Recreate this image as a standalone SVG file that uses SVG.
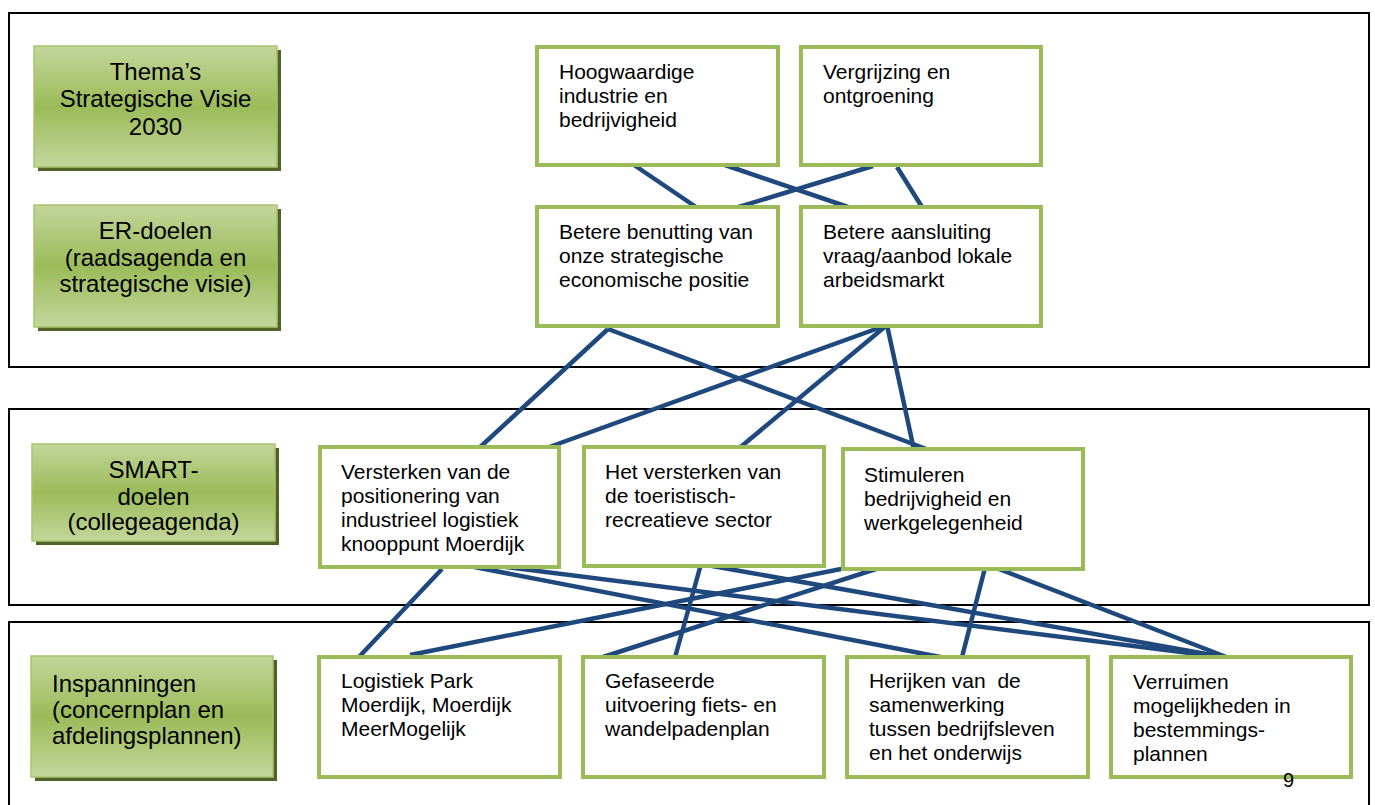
<svg xmlns="http://www.w3.org/2000/svg" width="1375" height="805" viewBox="0 0 1375 805">
<defs>
<linearGradient id="gg" x1="0" y1="0" x2="0" y2="1">
<stop offset="0" stop-color="#C3D69B"/>
<stop offset="0.5" stop-color="#9BBB59"/>
<stop offset="1" stop-color="#C3D69B"/>
</linearGradient>
</defs>
<style>
.frame{fill:none;stroke:#000;stroke-width:2}
.lbl{fill:url(#gg);stroke:#A9C56E;stroke-width:1.5}
.sh{fill:#4F6228}
.box{fill:#fff;stroke:#9BBB59;stroke-width:4}
text{font-family:"Liberation Sans",Arial,sans-serif;fill:#000}
.lt{font-size:24px}
.bt{font-size:21px;white-space:pre}
.c{text-anchor:middle}
.con line{stroke:#1F497D;stroke-width:4.5;stroke-linecap:butt}
</style>
<rect width="1375" height="805" fill="#fff"/>
<g id="frames">
<rect class="frame" x="9" y="13" width="1360" height="354"/>
<rect class="frame" x="9" y="409" width="1360" height="196"/>
<rect class="frame" x="9" y="622" width="1360" height="200"/>
</g>
<g id="label-thema">
<rect class="sh" x="38" y="50" width="243" height="121"/>
<rect class="lbl" x="34" y="46" width="243" height="121"/>
<text class="lt c" x="155.5" y="80">Thema’s</text>
<text class="lt c" x="155.5" y="107">Strategische Visie</text>
<text class="lt c" x="155.5" y="135">2030</text>
</g>
<g id="label-er">
<rect class="sh" x="38" y="209" width="243" height="122"/>
<rect class="lbl" x="34" y="205" width="243" height="122"/>
<text class="lt c" x="155.5" y="239">ER-doelen</text>
<text class="lt c" x="155.5" y="266">(raadsagenda en</text>
<text class="lt c" x="155.5" y="292">strategische visie)</text>
</g>
<g id="label-smart">
<rect class="sh" x="36" y="448" width="243" height="97"/>
<rect class="lbl" x="32" y="444" width="243" height="97"/>
<text class="lt c" x="153.5" y="478">SMART-</text>
<text class="lt c" x="153.5" y="504.5">doelen</text>
<text class="lt c" x="153.5" y="530">(collegeagenda)</text>
</g>
<g id="label-inspanningen">
<rect class="sh" x="35" y="660" width="242" height="121"/>
<rect class="lbl" x="31" y="656" width="242" height="121"/>
<text class="lt" x="52" y="692">Inspanningen</text>
<text class="lt" x="52" y="718">(concernplan en</text>
<text class="lt" x="52" y="744">afdelingsplannen)</text>
</g>
<g id="connectors" class="con">
<line x1="634" y1="165" x2="696" y2="207"/>
<line x1="725" y1="165" x2="848" y2="207"/>
<line x1="873" y1="166" x2="732" y2="209"/>
<line x1="897" y1="167" x2="922" y2="207"/>
<line x1="608" y1="329" x2="477" y2="450"/>
<line x1="608" y1="329" x2="929" y2="450"/>
<line x1="887" y1="325" x2="541" y2="450"/>
<line x1="887" y1="325" x2="737" y2="450"/>
<line x1="887" y1="325" x2="914" y2="450"/>
<line x1="442" y1="569" x2="358" y2="658"/>
<line x1="459" y1="564" x2="961" y2="661"/>
<line x1="482" y1="564" x2="1229" y2="658"/>
<line x1="701" y1="564" x2="674" y2="661"/>
<line x1="701" y1="564" x2="1229" y2="658"/>
<line x1="866" y1="564" x2="410" y2="655"/>
<line x1="879" y1="568" x2="600" y2="658"/>
<line x1="986" y1="564" x2="961" y2="661"/>
<line x1="986" y1="564" x2="1229" y2="658"/>
</g>
<g id="node-hoogwaardige">
<rect class="box" x="537" y="47" width="241" height="118"/>
<text class="bt" x="559" y="79">Hoogwaardige</text>
<text class="bt" x="559" y="103">industrie en</text>
<text class="bt" x="559" y="127">bedrijvigheid</text>
</g>
<g id="node-vergrijzing">
<rect class="box" x="801" y="47" width="240" height="118"/>
<text class="bt" x="823" y="79">Vergrijzing en</text>
<text class="bt" x="823" y="103">ontgroening</text>
</g>
<g id="node-benutting">
<rect class="box" x="537" y="207" width="241" height="119"/>
<text class="bt" x="559" y="239">Betere benutting van</text>
<text class="bt" x="559" y="263">onze strategische</text>
<text class="bt" x="559" y="287">economische positie</text>
</g>
<g id="node-aansluiting">
<rect class="box" x="801" y="207" width="240" height="119"/>
<text class="bt" x="823" y="239">Betere aansluiting</text>
<text class="bt" x="823" y="263">vraag/aanbod lokale</text>
<text class="bt" x="823" y="287">arbeidsmarkt</text>
</g>
<g id="node-versterken">
<rect class="box" x="320" y="447" width="239" height="120"/>
<text class="bt" x="341" y="479">Versterken van de</text>
<text class="bt" x="341" y="503">positionering van</text>
<text class="bt" x="341" y="527">industrieel logistiek</text>
<text class="bt" x="341" y="551">knooppunt Moerdijk</text>
</g>
<g id="node-toeristisch">
<rect class="box" x="584" y="447" width="240" height="119"/>
<text class="bt" x="605" y="479">Het versterken van</text>
<text class="bt" x="605" y="503">de toeristisch-</text>
<text class="bt" x="605" y="527">recreatieve sector</text>
</g>
<g id="node-stimuleren">
<rect class="box" x="843" y="449" width="240" height="120"/>
<text class="bt" x="864" y="482">Stimuleren</text>
<text class="bt" x="864" y="506">bedrijvigheid en</text>
<text class="bt" x="864" y="530">werkgelegenheid</text>
</g>
<g id="node-logistiek">
<rect class="box" x="319" y="657" width="241" height="120"/>
<text class="bt" x="341" y="688">Logistiek Park</text>
<text class="bt" x="341" y="712">Moerdijk, Moerdijk</text>
<text class="bt" x="341" y="736">MeerMogelijk</text>
</g>
<g id="node-gefaseerde">
<rect class="box" x="583" y="657" width="241" height="120"/>
<text class="bt" x="605" y="688">Gefaseerde</text>
<text class="bt" x="605" y="712">uitvoering fiets- en</text>
<text class="bt" x="605" y="736">wandelpadenplan</text>
</g>
<g id="node-herijken">
<rect class="box" x="847" y="657" width="241" height="120"/>
<text class="bt" x="869" y="688">Herijken van  de</text>
<text class="bt" x="869" y="712">samenwerking</text>
<text class="bt" x="869" y="736">tussen bedrijfsleven</text>
<text class="bt" x="869" y="760">en het onderwijs</text>
</g>
<g id="node-verruimen">
<rect class="box" x="1111" y="657" width="240" height="120"/>
<text class="bt" x="1133" y="689">Verruimen</text>
<text class="bt" x="1133" y="713">mogelijkheden in</text>
<text class="bt" x="1133" y="737">bestemmings-</text>
<text class="bt" x="1133" y="761">plannen</text>
</g>
<text x="1283" y="787" style="font-size:20px">9</text>
</svg>
